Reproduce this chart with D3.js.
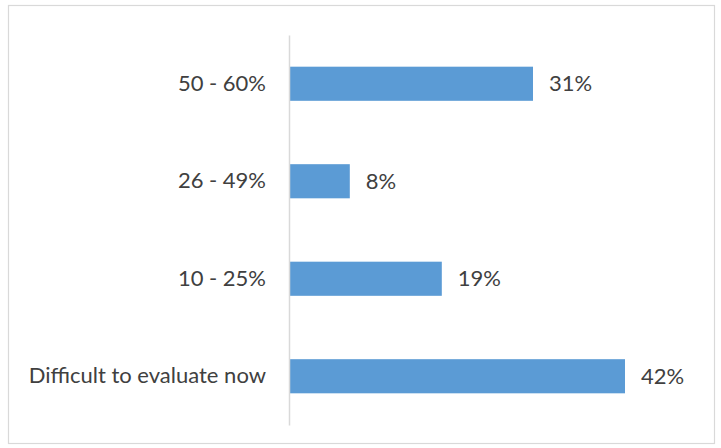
<!DOCTYPE html>
<html>
<head>
<meta charset="utf-8">
<script src="https://cdn.jsdelivr.net/npm/d3@7"></script>
<style>
  body { margin: 0; background: #fff; }
  text { font-family: Lato, sans-serif; fill: #404040; }
</style>
</head>
<body>
<div id="chart"></div>
<script>
// data
var categories = ["50 - 60%", "26 - 49%", "10 - 25%", "Difficult to evaluate now"];
var values = [30.5, 7.6, 19.1, 42.0];
var valueLabels = ["31%", "8%", "19%", "42%"];

var width = 721, height = 448;
var fontSize = "22px";

var svg = d3.select("#chart")
    .append("svg")
    .attr("width", width)
    .attr("height", height);

// chart area border
svg.append("rect")
    .attr("x", 8.5)
    .attr("y", 5.5)
    .attr("width", 706)
    .attr("height", 438)
    .attr("fill", "#fff")
    .attr("stroke", "#d9d9d9")
    .attr("stroke-width", 1.2);

var data = categories.map(function(c, i) {
    return { cat: c, value: values[i], label: valueLabels[i] };
});

var xScale = d3.scaleLinear()
    .domain([0, 45])
    .range([289, 649]);

var yScale = d3.scaleBand()
    .domain(categories)
    .range([35, 425])
    .paddingInner(0.65)
    .paddingOuter(0.325);

// bars
svg.selectAll("rect.bar")
    .data(data)
    .enter()
    .append("rect")
    .attr("class", "bar")
    .attr("x", xScale(0))
    .attr("y", function(d) { return yScale(d.cat); })
    .attr("width", function(d) { return xScale(d.value) - xScale(0); })
    .attr("height", yScale.bandwidth())
    .attr("fill", "#5b9bd5");

// value labels
svg.selectAll("text.val")
    .data(data)
    .enter()
    .append("text")
    .attr("class", "val")
    .attr("x", function(d) { return xScale(d.value) + 16; })
    .attr("y", function(d) { return yScale(d.cat) + yScale.bandwidth() / 2; })
    .attr("dy", "0.35em")
    .style("font-size", fontSize)
    .text(function(d) { return d.label; });

// category axis
var yAxis = d3.axisLeft(yScale).tickSize(0).tickPadding(23);

var gy = svg.append("g")
    .attr("class", "axis y-axis")
    .attr("transform", "translate(" + xScale(0) + ",0)")
    .call(yAxis);

gy.select(".domain").attr("stroke", "#d9d9d9").attr("stroke-width", 1.5);
gy.selectAll("text")
    .style("font-size", fontSize)
    .style("font-family", "Lato, sans-serif")
    .attr("fill", "#404040");
</script>
</body>
</html>
